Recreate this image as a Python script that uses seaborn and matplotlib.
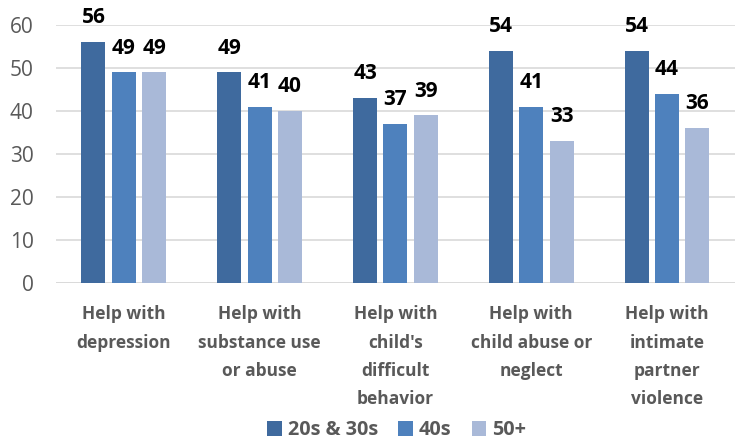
import matplotlib
matplotlib.use("Agg")
import matplotlib.pyplot as plt
import seaborn as sns
import pandas as pd

categories = ["Help with\ndepression", "Help with\nsubstance use\nor abuse",
              "Help with\nchild's\ndifficult\nbehavior", "Help with\nchild abuse or\nneglect",
              "Help with\nintimate\npartner\nviolence"]
groups = ["20s & 30s", "40s", "50+"]
vals_20s30s = [56, 49, 43, 54, 54]
vals_40s = [49, 41, 37, 41, 44]
vals_50plus = [49, 40, 39, 33, 36]
yticks = [0, 10, 20, 30, 40, 50, 60]

colors = ["#3F6A9E", "#4E81BD", "#A9B9D8"]

rows = []
for g, vals in zip(groups, [vals_20s30s, vals_40s, vals_50plus]):
    for c, v in zip(categories, vals):
        rows.append({"category": c, "group": g, "value": v})
df = pd.DataFrame(rows)

sns.set_theme(style="white")
plt.rcParams["font.family"] = ["Open Sans", "DejaVu Sans"]

fig = plt.figure(figsize=(7.35, 4.41), dpi=100)
ax = fig.add_axes([0.076, 0.358, 0.924, 0.585])

sns.barplot(data=df, x="category", y="value", hue="group", hue_order=groups,
            palette=colors, width=0.67, gap=0.21, ax=ax, legend=True,
            saturation=1, edgecolor="none")

for cont in ax.containers:
    ax.bar_label(cont, fmt="%d", padding=10, fontsize=15, fontweight="bold",
                 color="black", clip_on=False)

ax.set_ylim(0, 60)
ax.set_yticks(yticks)
ax.yaxis.grid(True, color="#D9D9D9", linewidth=1.2)
ax.set_axisbelow(True)
for s in ax.spines.values():
    s.set_visible(False)
ax.axhline(0, color="#D9D9D9", linewidth=1.2, zorder=0)
ax.set_xlabel("")
ax.set_ylabel("")
ax.tick_params(axis="y", labelsize=15, labelcolor="#595959", length=0, pad=16)
ax.tick_params(axis="x", labelsize=12.5, labelcolor="#595959", length=0, pad=16)
for t in ax.get_xticklabels():
    t.set_fontweight("bold")
    t.set_linespacing(1.74)
    t.set_verticalalignment("top")

ax.legend(loc="center", bbox_to_anchor=(0.502, -0.57), ncol=3, frameon=False,
          handlelength=0.75, handleheight=0.75, handletextpad=0.3, columnspacing=1.0,
          prop={"size": 14.3, "weight": "bold"}, labelcolor="#595959",
          borderaxespad=0, borderpad=0)

fig.savefig("out.png", dpi=100)
